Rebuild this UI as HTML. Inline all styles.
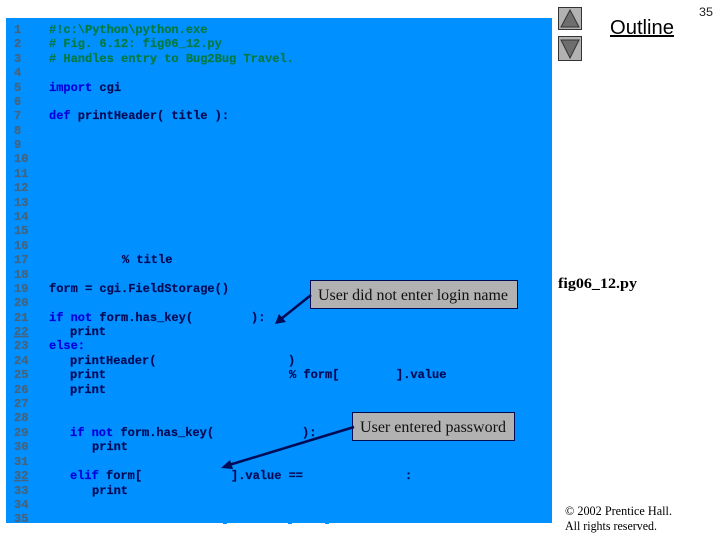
<!DOCTYPE html>
<html><head><meta charset="utf-8"><style>
html,body{margin:0;padding:0;background:#fff;width:720px;height:540px;overflow:hidden}
svg{display:block}
.m{font-family:"Liberation Mono",monospace;font-size:12px;font-weight:bold;white-space:pre}
.n{fill:#44647f;stroke:#44647f;stroke-width:.25}.c{fill:#007a3d;stroke:#007a3d;stroke-width:.2}.t{fill:#000a55;stroke:#000a55;stroke-width:.2}.k{fill:#0000dd;stroke:#0000dd;stroke-width:.2}
.s{font-family:"Liberation Serif",serif}
</style></head><body>
<svg width="720" height="540" viewBox="0 0 720 540" xmlns="http://www.w3.org/2000/svg">
<rect x="6" y="18" width="546" height="505" fill="#0090ff"/>
<g class="m n">
<text x="14" y="33">1</text><text x="14" y="47">2</text><text x="14" y="62">3</text><text x="14" y="76">4</text><text x="14" y="91">5</text><text x="14" y="105">6</text><text x="14" y="119">7</text><text x="14" y="134">8</text><text x="14" y="148">9</text>
<text x="14" y="162">10</text><text x="14" y="177">11</text><text x="14" y="191">12</text><text x="14" y="206">13</text><text x="14" y="220">14</text><text x="14" y="234">15</text><text x="14" y="249">16</text><text x="14" y="263">17</text><text x="14" y="278">18</text><text x="14" y="292">19</text><text x="14" y="306">20</text><text x="14" y="321">21</text><text x="14" y="335" text-decoration="underline">22</text><text x="14" y="349">23</text><text x="14" y="364">24</text><text x="14" y="378">25</text><text x="14" y="393">26</text><text x="14" y="407">27</text><text x="14" y="421">28</text><text x="14" y="436">29</text><text x="14" y="450">30</text><text x="14" y="465">31</text><text x="14" y="479" text-decoration="underline">32</text><text x="14" y="494">33</text><text x="14" y="508">34</text><text x="14" y="522">35</text>
</g>
<g class="m c">
<text x="49" y="33">#!c:\Python\python.exe</text>
<text x="49" y="47"># Fig. 6.12: fig06_12.py</text>
<text x="49" y="62"># Handles entry to Bug2Bug Travel.</text>
</g>
<g class="m t">
<text x="49" y="91"><tspan class="k">import</tspan> cgi</text>
<text x="49" y="119"><tspan class="k">def</tspan> printHeader( title ):</text>
<text x="122" y="263">% title</text>
<text x="49" y="292">form = cgi.FieldStorage()</text>
<text x="49" y="321"><tspan class="k">if not</tspan> form.has_key(</text>
<text x="251" y="321">):</text>
<text x="70" y="335">print</text>
<text x="49" y="349" class="k">else:</text>
<text x="70" y="364">printHeader(</text>
<text x="288" y="364">)</text>
<text x="70" y="378">print</text>
<text x="289" y="378">% form[</text>
<text x="396" y="378">].value</text>
<text x="70" y="393">print</text>
<text x="70" y="436"><tspan class="k">if not</tspan> form.has_key(</text>
<text x="302" y="436">):</text>
<text x="92" y="450">print</text>
<text x="70" y="479"><tspan class="k">elif</tspan> form[</text>
<text x="231" y="479">].value ==</text>
<text x="405" y="479">:</text>
<text x="92" y="494">print</text>
</g>
<g fill="#0090ff"><rect x="223" y="523" width="4" height="1"/><rect x="288" y="523" width="4" height="1"/><rect x="325" y="523" width="4" height="1"/></g>

<rect x="310.500" y="280.500" width="207" height="28" fill="#b2b2b2" stroke="#000a55"/>
<text class="s" x="318" y="300" font-size="16" fill="#111" textLength="190" lengthAdjust="spacingAndGlyphs">User did not enter login name</text>
<line x1="311" y1="295" x2="281" y2="319" stroke="#000a55" stroke-width="2.500"/>
<polygon points="275,324 279,314 286,322" fill="#000a55"/>

<rect x="352.500" y="412.500" width="162" height="28" fill="#b2b2b2" stroke="#000a55"/>
<text class="s" x="360" y="432" font-size="16" fill="#111" textLength="146" lengthAdjust="spacingAndGlyphs">User entered password</text>
<line x1="354" y1="427" x2="229" y2="465" stroke="#000a55" stroke-width="2.500"/>
<polygon points="221,468 230,460 233,469" fill="#000a55"/>

<rect x="558.500" y="7.500" width="23" height="22" fill="#b2b2b2" stroke="#333"/>
<polygon points="570,10 561,27 579,27" fill="#6e6e6e" stroke="#333"/>
<rect x="558.500" y="36.500" width="23" height="24" fill="#b2b2b2" stroke="#333"/>
<polygon points="561,40 579,40 570,58" fill="#6e6e6e" stroke="#333"/>

<text x="610" y="34" font-family="Liberation Sans, sans-serif" font-size="20" fill="#000" textLength="64" lengthAdjust="spacingAndGlyphs" text-decoration="underline">Outline</text>
<text x="699" y="16" font-family="Liberation Sans, sans-serif" font-size="12" fill="#222" textLength="14" lengthAdjust="spacingAndGlyphs">35</text>
<text class="s" x="558" y="288" font-size="15" font-weight="bold" fill="#000" textLength="79" lengthAdjust="spacingAndGlyphs">fig06_12.py</text>
<text class="s" x="565" y="515" font-size="13" fill="#000" textLength="107" lengthAdjust="spacingAndGlyphs">© 2002 Prentice Hall.</text>
<text class="s" x="565" y="530" font-size="13" fill="#000" textLength="92" lengthAdjust="spacingAndGlyphs">All rights reserved.</text>
</svg>
</body></html>
